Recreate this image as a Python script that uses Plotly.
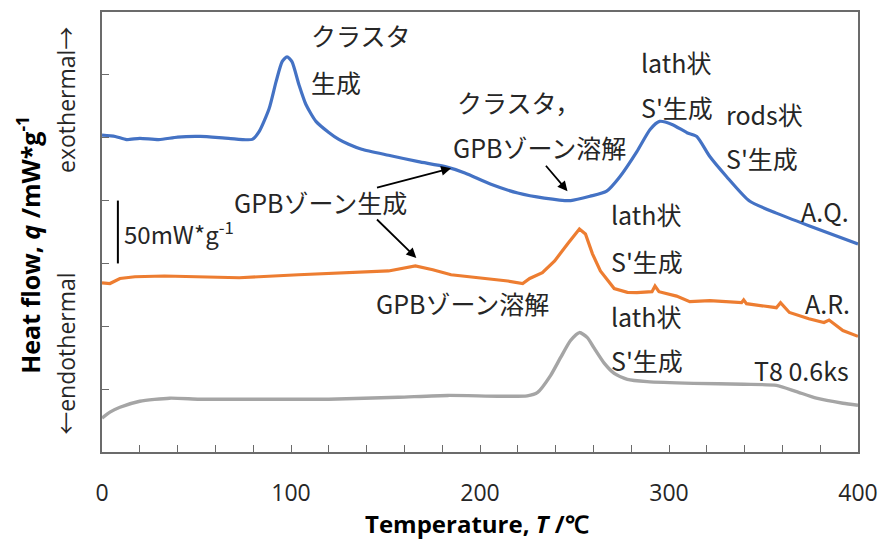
import plotly.graph_objects as go

# DSC heat-flow curves (mW/g, vertically offset), temperature in deg C
aq_T = [0, 7, 13, 20, 30, 40, 52, 67, 79.5, 83.2, 88.4, 92.1, 95.3, 97.9, 100.5, 104.2,
        107.9, 113.2, 120, 125.3, 130.5, 137.4, 151.6, 167.4, 181.6, 192, 205.8, 220,
        234, 248, 258.4, 267, 274, 283, 290, 295, 301.6, 309.5, 314.7, 321.6, 330.5,
        342.6, 356.8, 374, 400]
aq_q = [252, 251, 248.5, 249.5, 248.5, 250.5, 251, 249.5, 248.7, 255, 273, 294.6, 310.5,
        314.4, 310.5, 292.2, 276.4, 263, 254.2, 248.7, 244.8, 240.8, 236, 231, 227, 222,
        213, 206, 202, 200, 203.5, 207.5, 219, 239, 256.6, 263, 260.6, 254, 251, 235,
        219, 199.6, 190, 180, 165.5]

ar_T = [0, 4.2, 9.5, 17.4, 33, 51.6, 72.6, 104, 130.5, 151.6, 165.8, 175, 184.7,
        193.7, 204, 214.7, 222.6, 226.3, 233, 239.5, 246.3, 252.6, 255.8, 259.5,
        263.7, 271, 278, 283, 291, 292.6, 294.7, 304, 311, 321.6, 338.4, 339.5, 341,
        356.8, 359, 363.7, 374, 382, 384.7, 392, 400]
ar_q = [134.6, 134, 138, 139.4, 140, 139.4, 138.6, 141, 142.6, 144, 148, 145, 141,
        139.4, 138, 136, 134, 138, 142.6, 152, 165.5, 177.4, 173.4, 157.6,
        144, 130, 127, 126.7, 127.5, 132, 127.5, 124, 119.6, 120.4, 118.8, 121, 118,
        114.8, 118.8, 111, 106, 103, 105, 96.6, 92]

t8_T = [0, 4.2, 9.5, 20, 35.8, 51.6, 72.6, 88.4, 104, 120, 156.8, 183, 209.5, 225,
        230.5, 237.4, 242.6, 247.9, 252.6, 256.8, 260.5, 265.8, 271, 278, 288.4, 313,
        339.5, 356.8, 367, 378, 392, 400]
t8_q = [27, 31.7, 35.6, 40.4, 42.8, 42, 42, 42, 42, 42, 43.6, 45, 44.4, 44.7,
        47.5, 61, 75, 88.7, 95, 91, 82.4, 70.5, 62.6, 57.8, 56, 54.6,
        53.9, 53, 48.3, 42.8, 38.8, 37.2]

scale_bar = 50  # mW/g
scale_base = 150

BLUE, ORANGE, GRAY = "#4472C4", "#ED7D31", "#A5A5A5"
JP = "Noto Sans CJK JP"
TXT = "#262626"

fig = go.Figure()
fig.add_trace(go.Scatter(x=aq_T, y=aq_q, mode="lines",
                         line=dict(color=BLUE, width=3.2, shape="spline", smoothing=0.6),
                         showlegend=False, hoverinfo="skip"))
fig.add_trace(go.Scatter(x=ar_T, y=ar_q, mode="lines",
                         line=dict(color=ORANGE, width=3.2),
                         showlegend=False, hoverinfo="skip"))
fig.add_trace(go.Scatter(x=t8_T, y=t8_q, mode="lines",
                         line=dict(color=GRAY, width=3.4, shape="spline", smoothing=0.6),
                         showlegend=False, hoverinfo="skip"))

# scale bar
fig.add_trace(go.Scatter(x=[8.4, 8.4], y=[scale_base, scale_base + scale_bar], mode="lines",
                         line=dict(color="black", width=2), showlegend=False, hoverinfo="skip"))

labels = [
    ("クラスタ", 109.5, 331.8), ("生成", 109.5, 294.6),
    ("クラスタ，", 186.8, 278.8), ("GPBゾーン溶解", 184.7, 243),
    ("GPBゾーン生成", 69, 199), ("GPBゾーン溶解", 143.7, 118.8),
    ("lath状", 284.2, 310.5), ("S'生成", 284.2, 274.8),
    ("rods状", 329, 268.5), ("S'生成", 329, 233.6),
    ("A.Q.", 369, 191.7),
    ("lath状", 268.4, 189.3), ("S'生成", 268.4, 152),
    ("A.R.", 371, 118.8),
    ("lath状", 268.4, 108.5), ("S'生成", 268.4, 72.9),
    ("T8 0.6ks", 343.7, 65),
]
ann = []
for t, x, y in labels:
    ann.append(dict(text=t, x=x, y=y, xref="x", yref="y", xanchor="left", yanchor="middle",
                    showarrow=False, font=dict(family=JP, size=25, color=TXT)))
ann.append(dict(text="50mW*g<sup>-1</sup>", x=10.5, y=174, xref="x", yref="y",
                xanchor="left", yanchor="middle", showarrow=False,
                font=dict(family=JP, size=24, color=TXT)))

arrows = [((144.7, 209.9), (184.7, 225.7)),
          ((144.7, 186.1), (166.3, 154.4)),
          ((234.2, 228.9), (246.3, 207.5))]
for (tx, ty), (hx, hy) in arrows:
    ann.append(dict(x=hx, y=hy, ax=tx, ay=ty, xref="x", yref="y", axref="x", ayref="y",
                    text="", showarrow=True, arrowhead=2, arrowsize=1.1, arrowwidth=1.8,
                    arrowcolor="black"))

ARROW = "<span style='font-family:Noto Sans CJK JP'>{}</span>"

# axis titles
ann.append(dict(text="<b>Temperature, <i>T</i> /℃</b>", x=0.496, y=-0.163, xref="paper",
                yref="paper", showarrow=False, xanchor="center", yanchor="middle",
                font=dict(family="Open Sans", size=24, color="black")))
ann.append(dict(text="<b>Heat flow, <i>q</i> /mW*g<sup>-1</sup></b>", x=-0.097, y=0.47,
                xref="paper", yref="paper", showarrow=False, textangle=-90,
                xanchor="center", yanchor="middle",
                font=dict(family="Open Sans", size=25, color="black")))
ann.append(dict(text="exothermal" + ARROW.format("→"), x=-0.049, y=0.80, xref="paper",
                yref="paper", showarrow=False, textangle=-90, xanchor="center",
                yanchor="middle", font=dict(family="Open Sans", size=23, color=TXT)))
ann.append(dict(text=ARROW.format("←") + "endothermal", x=-0.049, y=0.223, xref="paper",
                yref="paper", showarrow=False, textangle=-90, xanchor="center",
                yanchor="middle", font=dict(family="Open Sans", size=23, color=TXT)))

axis_line = "#6b6b6b"
fig.update_layout(
    width=888, height=540, margin=dict(l=102, r=25, t=10, b=88),
    plot_bgcolor="white", paper_bgcolor="white", annotations=ann,
    xaxis=dict(range=[0, 400], dtick=100, ticks="inside", ticklen=7, tickcolor=axis_line,
               minor=dict(dtick=20, ticks="inside", ticklen=7, tickcolor=axis_line,
                          showgrid=False),
               showgrid=False, zeroline=False,
               showline=True, linecolor=axis_line, linewidth=1.5, mirror=True,
               ticklabelstandoff=20, tickfont=dict(family="Open Sans", size=23, color=TXT)),
    yaxis=dict(range=[0, 350], dtick=50, ticks="inside", ticklen=7, tickcolor=axis_line,
               showticklabels=False, showgrid=False, zeroline=False, showline=True,
               linecolor=axis_line, linewidth=1.5, mirror=True),
)

fig.write_html("out.html")
